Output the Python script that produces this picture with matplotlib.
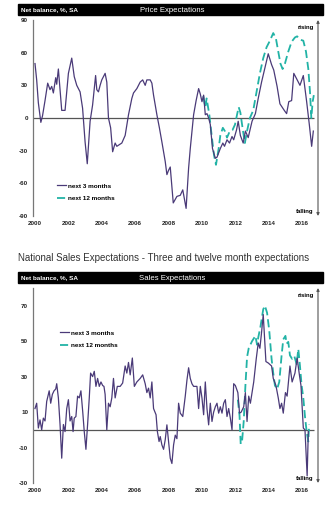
import numpy as np
import matplotlib
matplotlib.use("Agg")
import matplotlib.pyplot as plt
from matplotlib.patches import Rectangle

plt.rcParams['font.family'] = ['Liberation Sans', 'DejaVu Sans']

# ---- Price expectations (net balance, %, SA) ----
price3_t = [2000.0, 2000.1, 2000.2, 2000.35, 2000.45, 2000.6, 2000.76, 2000.9, 2001.0, 2001.1,
            2001.24, 2001.3, 2001.4, 2001.5, 2001.6, 2001.8, 2002.0, 2002.2, 2002.35, 2002.5,
            2002.7, 2002.85, 2003.0, 2003.13, 2003.3, 2003.45, 2003.63, 2003.7, 2003.8, 2003.9,
            2004.0, 2004.2, 2004.3, 2004.4, 2004.53, 2004.65, 2004.8, 2004.9, 2005.0, 2005.2,
            2005.4, 2005.6, 2005.8, 2005.9, 2006.1, 2006.3, 2006.45, 2006.6, 2006.7, 2006.9,
            2007.0, 2007.1, 2007.3, 2007.45, 2007.6, 2007.8, 2007.9, 2008.0, 2008.1, 2008.28,
            2008.5, 2008.7, 2008.85, 2009.05, 2009.2, 2009.3, 2009.5, 2009.65, 2009.8, 2009.9,
            2010.0, 2010.1, 2010.2, 2010.3, 2010.4, 2010.5, 2010.63, 2010.8, 2010.9, 2011.1,
            2011.25, 2011.35, 2011.5, 2011.65, 2011.8, 2011.9, 2012.07, 2012.17, 2012.3, 2012.47,
            2012.6, 2012.77, 2013.0, 2013.2, 2013.37, 2013.57, 2013.77, 2013.97, 2014.17, 2014.3,
            2014.5, 2014.67, 2014.8, 2014.93, 2015.07, 2015.2, 2015.37, 2015.5, 2015.67, 2015.87,
            2016.07, 2016.27, 2016.43, 2016.57, 2016.67]
price3_v = [50, 35, 14, -4, 2, 16, 32, 26, 29, 23,
            37, 31, 45, 26, 7, 7, 41, 55, 38, 30,
            24, 9, -22, -42, -3, 12, 39, 26, 24, 30,
            35, 41, 33, 0, -9, -31, -23, -26, -25, -23,
            -16, 3, 18, 23, 27, 33, 35, 30, 35, 35,
            32, 21, 3, -9, -22, -40, -52, -48, -45, -78,
            -72, -71, -66, -83, -46, -28, 3, 16, 27, 22,
            15, 21, 3, 4, 0, -6, -28, -37, -36, -28,
            -23, -26, -20, -23, -17, -20, -11, -3, -16, -23,
            -12, -18, -3, 4, 18, 33, 46, 59, 49, 44,
            29, 13, 10, 7, 4, 15, 16, 41, 36, 30,
            39, 15, -6, -26, -12]

price12_t = [2010.08, 2010.2, 2010.28, 2010.44, 2010.58, 2010.72, 2010.84, 2011.0, 2011.1, 2011.25,
             2011.37, 2011.5, 2011.67, 2011.83, 2011.98, 2012.1, 2012.2, 2012.3, 2012.43, 2012.57,
             2012.7, 2012.87, 2013.07, 2013.27, 2013.47, 2013.67, 2013.87, 2014.07, 2014.27, 2014.43,
             2014.57, 2014.7, 2014.83, 2014.97, 2015.17, 2015.37, 2015.57, 2015.7, 2015.87, 2016.07,
             2016.23, 2016.37, 2016.47, 2016.55, 2016.63, 2016.7]
price12_v = [20, 10, 18, 3, -16, -34, -43, -28, -16, -9,
             -12, -18, -12, -11, -6, 3, 10, 5, -9, -23,
             -12, 0, 7, 24, 41, 55, 65, 71, 78, 73,
             61, 50, 45, 50, 61, 70, 74, 75, 72, 71,
             61, 45, 24, 0, 15, 21]

# ---- Sales expectations ----
sales3_t = [2000.0, 2000.1, 2000.2, 2000.3, 2000.4, 2000.5, 2000.6, 2000.7, 2000.85, 2000.94,
            2001.04, 2001.14, 2001.24, 2001.3, 2001.4, 2001.5, 2001.6, 2001.7, 2001.8, 2001.9,
            2002.0, 2002.1, 2002.2, 2002.28, 2002.35, 2002.45, 2002.55, 2002.65, 2002.75, 2002.86,
            2002.95, 2003.05, 2003.15, 2003.25, 2003.33, 2003.45, 2003.55, 2003.65, 2003.75, 2003.85,
            2003.95, 2004.05, 2004.13, 2004.2, 2004.3, 2004.4, 2004.5, 2004.6, 2004.7, 2004.8,
            2004.93, 2005.1, 2005.25, 2005.4, 2005.5, 2005.6, 2005.7, 2005.83, 2005.95, 2006.1,
            2006.3, 2006.45, 2006.6, 2006.7, 2006.8, 2006.9, 2007.0, 2007.1, 2007.25, 2007.33,
            2007.43, 2007.5, 2007.6, 2007.7, 2007.8, 2007.9, 2008.0, 2008.1, 2008.2, 2008.3,
            2008.4, 2008.5, 2008.6, 2008.7, 2008.85, 2009.0, 2009.1, 2009.2, 2009.3, 2009.4,
            2009.5, 2009.7, 2009.8, 2009.9, 2010.0, 2010.1, 2010.2, 2010.3, 2010.4, 2010.5,
            2010.6, 2010.7, 2010.8, 2010.9, 2011.0, 2011.1, 2011.2, 2011.3, 2011.4, 2011.5,
            2011.6, 2011.7, 2011.8, 2011.9, 2012.0, 2012.15, 2012.25, 2012.35, 2012.5, 2012.6,
            2012.7, 2012.8, 2012.9, 2013.1, 2013.25, 2013.37, 2013.47, 2013.57, 2013.67, 2013.73,
            2013.83, 2013.97, 2014.17, 2014.27, 2014.43, 2014.57, 2014.67, 2014.77, 2014.87, 2015.0,
            2015.1, 2015.27, 2015.4, 2015.57, 2015.7, 2015.85, 2015.93, 2016.07, 2016.17, 2016.3,
            2016.37]
sales3_v = [12, 15, 1, 5.6, 0, 6.6, 5, 16, 22, 15,
            20, 22, 23, 26, 18, 3, -16, 3, -1, 12,
            17, 5, 7.5, -1, 6.6, 7.5, 19, 18, 22, 10,
            -1, -11, 3, 18, 32, 30, 33, 24.5, 29, 24.5,
            27, 25, 24.5, 20, 0, 15, 13, 18, 29, 18,
            24.5, 24.5, 26.4, 36, 32, 38, 31, 40.5, 24.5, 27,
            29, 31, 26, 21, 23.5, 18, 27, 12, 8.5, -1,
            -6.6, -3.8, -8.5, -11, -5.6, 2.8, -6.6, -16, -19, -8.5,
            -3, -5, 15, 9.4, 7.5, 19, 28, 35, 29, 26,
            24.5, 24.5, 12, 24.5, 18, 8.5, 27, 12, 2.8, 15,
            4.7, 10, 13, 15, 9.4, 13, 9.4, 15, 17, 7.5,
            12, 6.6, 0, 26, 25, 21, 9.4, 10, 13, 21,
            4.7, 19, 15, 27, 40, 49, 46, 55, 65, 55,
            38.5, 37.7, 36, 29, 25, 18, 12, 15, 9.4, 21,
            19, 36, 27, 32, 40.5, 30, 25, 1, 0, -26,
            -1]

sales12_t = [2012.15, 2012.25, 2012.32, 2012.4, 2012.5, 2012.6, 2012.7, 2012.8, 2013.0, 2013.2,
             2013.3, 2013.37, 2013.5, 2013.67, 2013.77, 2013.9, 2014.03, 2014.17, 2014.27, 2014.37,
             2014.5, 2014.63, 2014.77, 2014.87, 2015.0, 2015.07, 2015.17, 2015.27, 2015.4, 2015.53,
             2015.67, 2015.77, 2015.87, 2015.97, 2016.07, 2016.17, 2016.27, 2016.37, 2016.42]
sales12_v = [17, 8, -8, -6.6, 4.7, 24.5, 41, 46, 50, 53,
             48, 52, 58, 68, 70, 66, 56, 40, 32, 25,
             23, 27, 42, 51, 53, 48.6, 49.6, 42, 40, 41.6,
             37, 45.6, 36, 25, 18, 7.5, -1, -6.6, 3]

years = list(range(2000, 2017, 2))
purple = '#4a3a78'
teal = '#22b3a6'

W, H = 336, 509
fig = plt.figure(figsize=(W / 100, H / 100), dpi=100)


def fx(px):
    return px / W


def fy(py):
    return 1 - py / H


def header(top, bottom, title):
    fig.patches.append(Rectangle((fx(18), fy(bottom)), fx(323) - fx(18), fy(top) - fy(bottom),
                                 transform=fig.transFigure, color='black', zorder=0))
    mid = (fy(top) + fy(bottom)) / 2 - 0.001
    fig.text(fx(21), mid, 'Net balance, %, SA', color='white', fontsize=4.6,
             fontweight='bold', va='center', ha='left')
    fig.text(fx(172), mid, title, color='white', fontsize=5.6, va='center', ha='center')


def panel(ax, t3, v3, t12, v12, ylim, yticks, leg_xy):
    ax.plot(t3, v3, color=purple, lw=0.9, label='next 3 months', zorder=3)
    ax.plot(t12, v12, color=teal, lw=1.3, ls=(0, (4.5, 2.2)), label='next 12 months', zorder=2)
    ax.hlines(0, 1999.88, 2016.7, color='#555555', lw=0.9, zorder=1)
    ax.set_xlim(1999.88, 2016.95)
    ax.set_ylim(*ylim)
    ax.set_xticks(years)
    ax.set_xticklabels([str(y) for y in years])
    ax.set_yticks(yticks)
    ax.set_yticklabels([str(v) for v in yticks])
    ax.tick_params(length=0, labelsize=4.5, pad=3.5, colors='#222222')
    for lab in ax.get_xticklabels() + ax.get_yticklabels():
        lab.set_fontweight('bold')
    for s in ['top', 'right', 'bottom']:
        ax.spines[s].set_visible(False)
    ax.spines['left'].set_color('#777777')
    ax.spines['left'].set_linewidth(0.9)
    ax.annotate('', xy=(1.0, 1.0), xytext=(1.0, 0.0), xycoords='axes fraction',
                arrowprops=dict(arrowstyle='<|-|>', color='#555555', lw=0.8,
                                mutation_scale=4, shrinkA=0, shrinkB=0))
    ax.text(0.985, 0.975, 'rising', transform=ax.transAxes, fontsize=4.3,
            fontweight='bold', ha='right', va='top')
    ax.text(0.985, 0.012, 'falling', transform=ax.transAxes, fontsize=4.3,
            fontweight='bold', ha='right', va='bottom')
    ax.legend(loc='upper left', bbox_to_anchor=(fx(leg_xy[0]), fy(leg_xy[1])),
              bbox_transform=fig.transFigure, frameon=False, fontsize=4.6,
              handlelength=1.4, handletextpad=0.25, labelspacing=1.1, borderpad=0)
    for txt in ax.get_legend().get_texts():
        txt.set_fontweight('bold')


# top panel
header(4, 15, 'Price Expectations')
ax1 = fig.add_axes([fx(33), fy(216), fx(318) - fx(33), fy(20) - fy(216)])
panel(ax1, price3_t, price3_v, price12_t, price12_v, (-90, 90),
      [90, 60, 30, 0, -30, -60, -90], (54, 180))

# bottom panel
fig.text(fx(18), fy(258), 'National Sales Expectations - Three and twelve month expectations',
         fontsize=7.0, color='#333333', ha='left', va='center')
header(272, 283, 'Sales Expectations')
ax2 = fig.add_axes([fx(33), fy(483), fx(318) - fx(33), fy(288) - fy(483)])
panel(ax2, sales3_t, sales3_v, sales12_t, sales12_v, (-30, 80),
      [70, 50, 30, 10, -10, -30], (57, 327))

fig.savefig('out.png', dpi=100)
